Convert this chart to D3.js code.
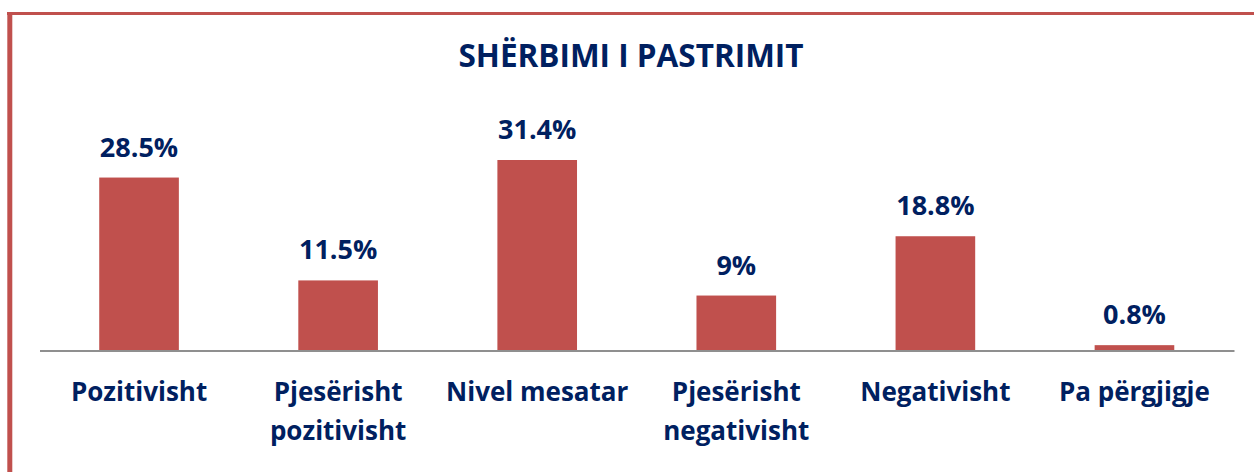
<!DOCTYPE html>
<html>
<head>
<meta charset="utf-8">
<script src="https://cdn.jsdelivr.net/npm/d3@7"></script>
<style>
  html, body { margin: 0; padding: 0; background: #fff; }
  svg { display: block; }
  text { font-family: "Open Sans", Lato, sans-serif; font-weight: 700; fill: #002060; }
</style>
</head>
<body>
<svg id="chart" width="1254" height="472"></svg>
<script>
// Survey answers about the cleaning service
const categories = [
  ["Pozitivisht"],
  ["Pjesërisht", "pozitivisht"],
  ["Nivel mesatar"],
  ["Pjesërisht", "negativisht"],
  ["Negativisht"],
  ["Pa përgjigje"]
];
const values = [28.5, 11.5, 31.4, 9, 18.8, 0.8];
const valueLabels = ["28.5%", "11.5%", "31.4%", "9%", "18.8%", "0.8%"];
const title = "SHËRBIMI I PASTRIMIT";

const W = 1254, H = 472;
const accent = "#C0504D";
const svg = d3.select("#chart");

// Frame: top and left rules
svg.append("line").attr("x1", 7).attr("x2", W).attr("y1", 13.5).attr("y2", 13.5)
  .attr("stroke", accent).attr("stroke-width", 3);
svg.append("line").attr("x1", 9.8).attr("x2", 9.8).attr("y1", 12).attr("y2", H)
  .attr("stroke", accent).attr("stroke-width", 5);

const plot = { left: 39.5, right: 1234, base: 350 };
const x = d3.scaleBand().domain(d3.range(values.length))
  .range([plot.left, plot.right]).paddingInner(0.6).paddingOuter(0.3);
const y = d3.scaleLinear().domain([0, 31.4]).range([plot.base, 160]);

svg.append("text").attr("x", 631).attr("y", 67).attr("text-anchor", "middle")
  .style("font-size", "31.5px").text(title);

svg.selectAll("rect.bar").data(values).join("rect").attr("class", "bar")
  .attr("x", (d, i) => x(i)).attr("width", x.bandwidth())
  .attr("y", d => y(d)).attr("height", d => y(0) - y(d))
  .attr("fill", accent);

// Baseline axis without ticks
const axis = svg.append("g").attr("transform", `translate(0,${plot.base + 0.5})`)
  .call(d3.axisBottom(x).tickSize(0).tickFormat(""));
axis.select(".domain").attr("stroke", "#8f8f8f").attr("stroke-width", 2);

svg.selectAll("text.val").data(values).join("text").attr("class", "val")
  .attr("x", (d, i) => x(i) + x.bandwidth() / 2).attr("y", d => y(d) - 21)
  .attr("text-anchor", "middle").style("font-size", "27px")
  .text((d, i) => valueLabels[i]);

const cat = svg.selectAll("text.cat").data(categories).join("text").attr("class", "cat")
  .attr("text-anchor", "middle").style("font-size", "26px");
cat.selectAll("tspan").data((d, i) => d.map(t => ({ t, i }))).join("tspan")
  .attr("x", d => x(d.i) + x.bandwidth() / 2)
  .attr("y", (d, j) => 401 + j * 39)
  .text(d => d.t);
</script>
</body>
</html>
